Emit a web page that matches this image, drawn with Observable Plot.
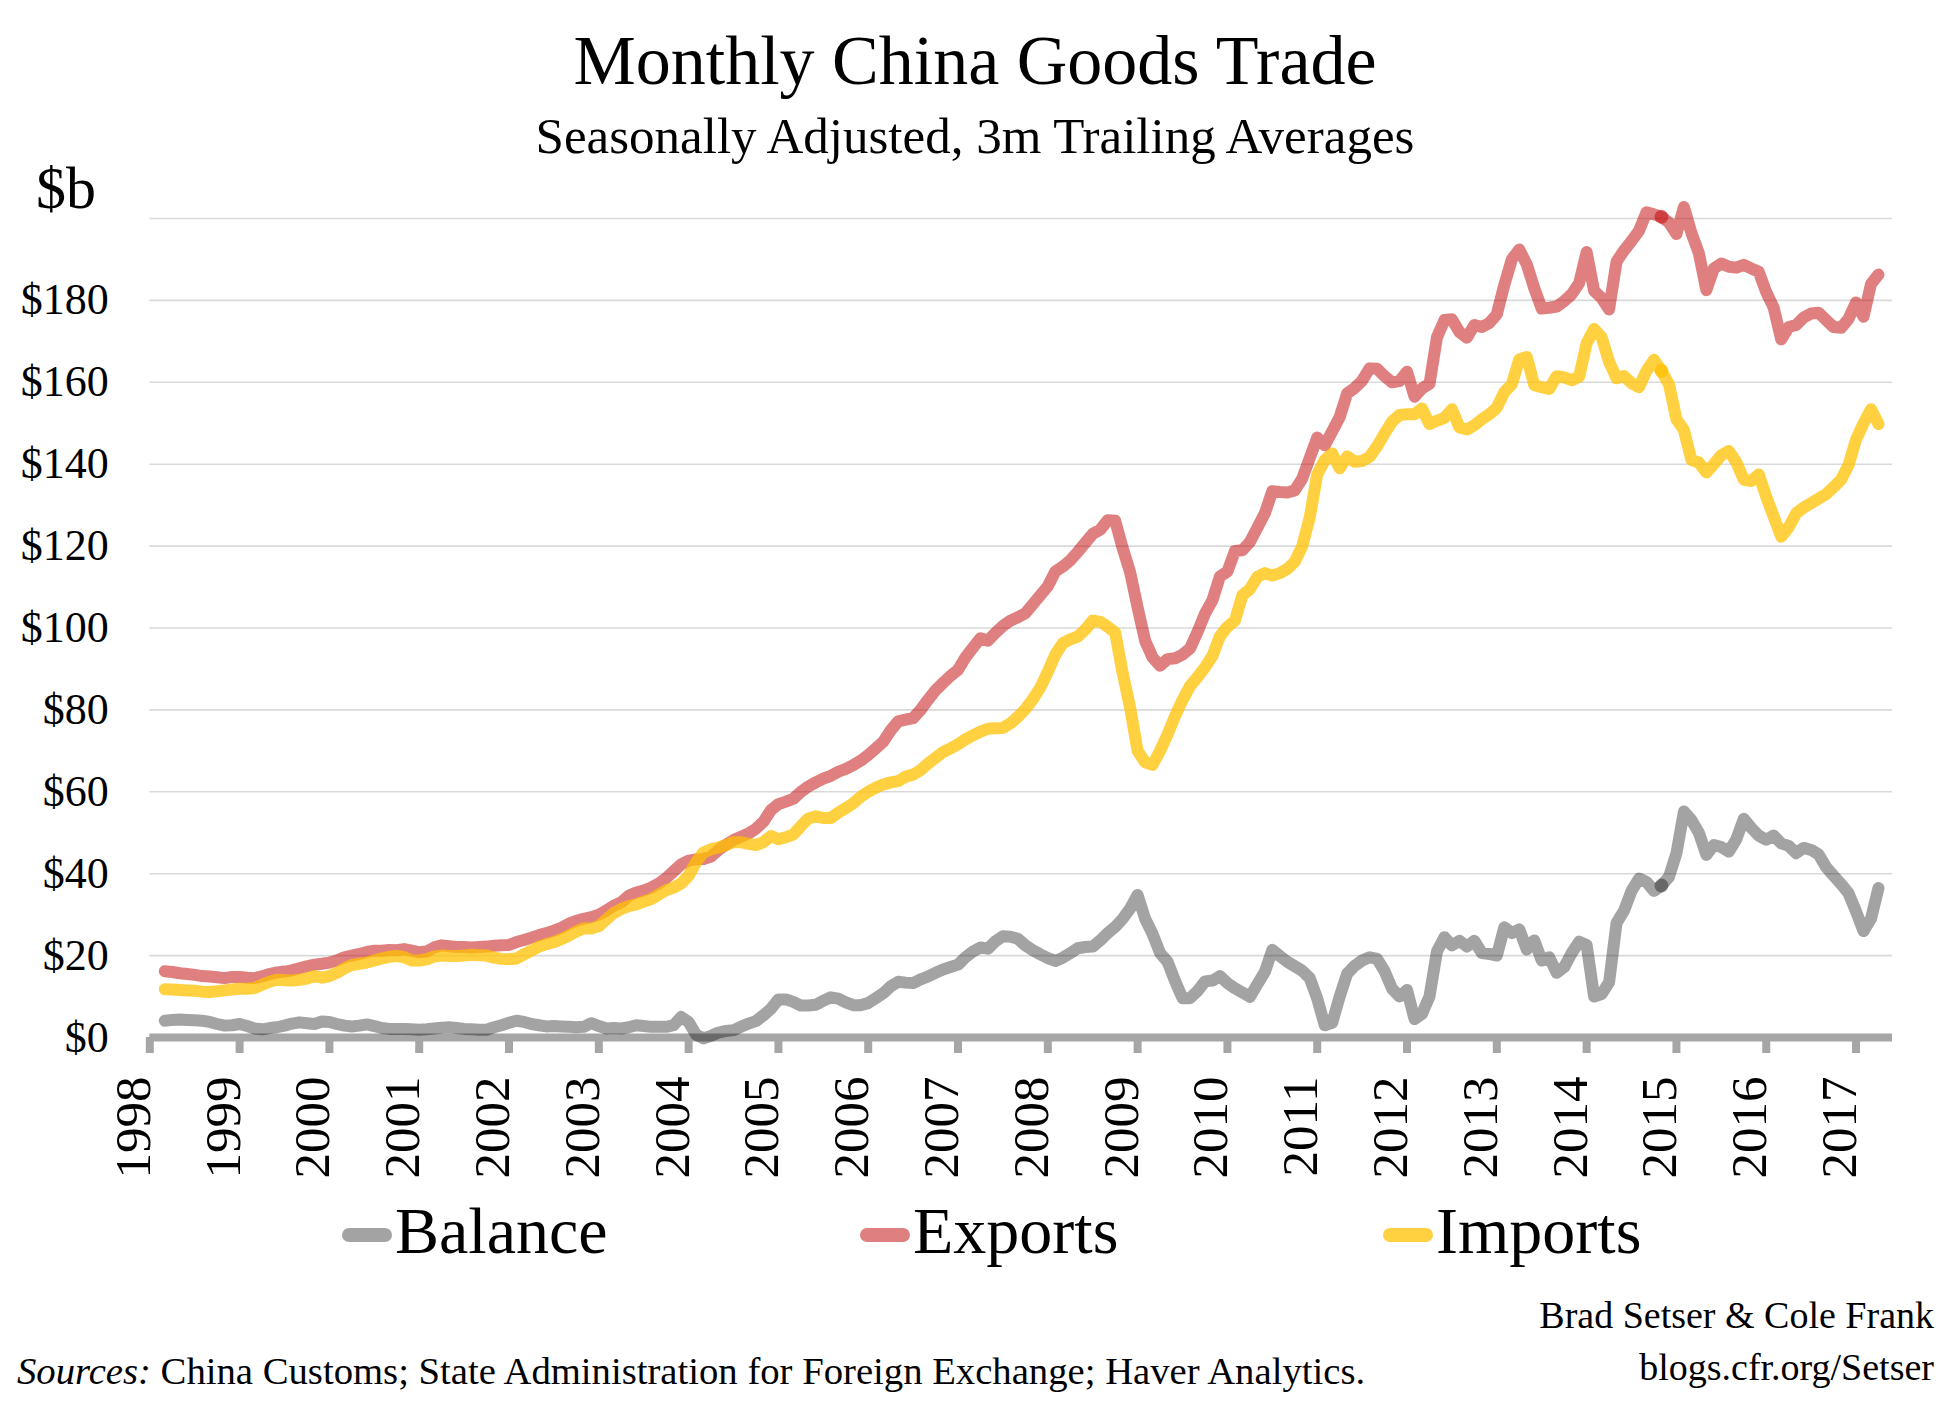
<!DOCTYPE html>
<html>
<head>
<meta charset="utf-8">
<script src="https://cdn.jsdelivr.net/npm/d3@7"></script>
<script src="https://cdn.jsdelivr.net/npm/@observablehq/plot@0.6"></script>
<style>
html,body{margin:0;padding:0;background:#fff;}
#wrap{position:relative;width:1950px;height:1405px;overflow:hidden;background:#fff;}
#wrap svg{position:absolute;left:0;top:0;}
</style>
</head>
<body>
<div id="wrap"></div>
<script>
// Monthly series, first value = March 1998, last value = April 2017 ($ billions)
const firstYear = 1998;
const firstMonthIndex = 2; // March (0 = January)

const exportsB = [
16.2,16.0,15.7,15.5,15.3,15.0,14.9,14.7,14.5,14.8,
14.8,14.6,14.5,14.9,15.5,15.9,16.1,16.4,16.9,17.4,
17.8,18.0,18.3,18.8,19.6,20.0,20.4,20.9,21.2,21.2,
21.4,21.3,21.6,21.2,20.8,21.0,22.0,22.5,22.3,22.1,
22.1,22.0,22.1,22.2,22.4,22.5,22.6,23.3,23.8,24.4,
25.0,25.5,26.1,26.8,27.8,28.5,29.0,29.4,30.0,31.0,
32.2,33.0,34.6,35.4,35.9,36.6,37.6,38.9,40.6,42.3,
43.2,43.5,43.6,44.2,45.8,47.1,48.2,49.0,49.8,51.0,
52.7,55.5,57.0,57.6,58.3,60.0,61.3,62.3,63.2,63.9,
64.9,65.6,66.5,67.6,69.0,70.6,72.2,75.0,77.2,77.6,
78.0,80.0,82.5,84.8,86.6,88.3,89.8,92.8,95.2,97.5,
96.9,98.8,100.5,101.8,102.6,103.6,105.8,108.0,110.2,113.8,
115.0,116.5,118.6,120.8,123.0,124.0,126.3,126.2,119.5,113.6,
105.0,96.9,92.8,90.8,92.4,92.6,93.5,95.0,99.0,103.5,
106.8,112.6,113.8,118.8,119.0,121.0,124.5,128.0,133.4,133.2,
133.1,133.6,136.5,141.5,146.5,144.6,148.0,151.5,157.3,158.6,
160.4,163.4,163.3,161.5,160.0,160.3,162.6,156.5,158.5,159.6,
171.0,175.2,175.4,172.3,170.9,174.0,173.5,174.5,176.6,183.8,
190.0,192.4,188.8,183.0,178.0,178.2,178.5,179.8,181.5,184.2,
191.8,182.3,180.6,177.8,189.5,192.2,194.5,197.0,201.5,201.0,
200.4,199.0,196.2,202.8,196.5,191.5,182.5,187.8,189.0,188.2,
188.0,188.7,187.8,187.0,182.0,178.2,170.5,173.5,174.0,175.8,
176.8,177.0,175.2,173.5,173.3,175.5,179.5,176.0,184.0,186.3
];

const importsB = [
11.8,11.7,11.6,11.5,11.4,11.2,11.1,11.3,11.5,11.7,
11.9,11.9,12.1,12.9,13.6,14.1,14.0,13.9,14.1,14.4,
15.0,14.6,15.0,15.8,16.9,17.7,18.0,18.3,18.8,19.3,
19.7,19.9,19.6,18.8,18.8,19.1,19.8,20.0,19.9,19.9,
20.0,20.2,20.1,20.0,19.5,19.2,19.1,19.3,20.3,21.2,
22.2,22.8,23.3,24.0,24.9,25.9,26.7,26.6,27.2,28.8,
30.4,31.4,32.1,32.5,33.2,33.8,34.9,36.0,36.6,37.6,
39.5,42.8,45.2,46.0,46.4,47.0,47.7,47.7,47.3,47.0,
47.7,49.2,48.4,48.9,49.6,51.6,53.5,54.0,53.6,53.6,
54.9,56.0,57.2,58.8,60.0,61.0,61.8,62.3,62.6,63.7,
64.2,65.3,66.9,68.3,69.7,70.6,71.6,72.8,73.8,74.7,
75.4,75.5,75.6,76.7,78.3,80.2,82.6,85.5,89.3,93.5,
96.3,97.2,97.9,99.6,101.8,101.5,100.3,98.9,89.0,80.5,
70.0,67.2,66.6,70.0,74.0,78.5,82.4,85.8,88.0,90.4,
93.2,98.0,100.3,101.8,108.0,109.5,112.5,113.4,112.8,113.4,
114.4,116.2,120.0,127.0,137.5,141.0,142.6,139.0,141.9,140.6,
140.8,141.8,144.4,147.5,150.4,152.0,152.2,152.2,153.6,149.8,
150.6,151.3,153.4,149.0,148.5,149.5,151.0,152.2,153.8,157.6,
159.5,165.6,166.2,159.3,158.8,158.4,161.5,161.2,160.5,161.4,
169.5,173.0,171.0,165.0,161.0,161.5,159.8,158.8,162.8,165.5,
162.8,159.5,151.0,148.3,141.0,140.4,138.0,140.0,142.2,143.2,
140.5,136.2,135.9,137.5,132.0,127.2,122.3,124.6,128.0,129.4,
130.5,131.6,132.7,134.4,136.2,139.8,146.0,150.0,153.4,149.8
];

const balanceB = [
4.1,4.3,4.4,4.3,4.2,4.1,3.8,3.3,2.9,3.0,
3.3,2.8,2.2,2.0,2.3,2.5,2.9,3.4,3.7,3.5,
3.3,3.9,3.8,3.3,2.9,2.7,2.9,3.2,2.8,2.3,
2.1,2.1,2.1,2.0,1.9,2.0,2.2,2.4,2.5,2.3,
2.1,2.0,1.9,1.9,2.5,3.0,3.6,4.1,3.8,3.3,
3.0,2.7,2.8,2.7,2.6,2.5,2.6,3.5,2.8,2.2,
2.3,2.2,2.5,3.0,2.8,2.6,2.6,2.6,3.0,5.0,
3.8,0.7,-0.2,0.4,1.2,1.6,1.8,2.6,3.4,4.0,
5.4,7.0,9.3,9.3,8.7,7.8,7.8,8.0,9.0,9.8,
9.5,8.6,7.9,7.9,8.4,9.6,10.8,12.5,13.6,13.4,
13.3,14.2,14.9,15.8,16.6,17.2,17.8,19.6,21.0,22.0,
21.7,23.5,24.7,24.6,24.1,22.5,21.3,20.3,19.4,18.7,
19.5,20.6,21.8,22.1,22.2,23.7,25.5,27.0,29.0,31.5,
34.8,29.0,25.3,20.6,18.5,13.8,9.6,9.6,11.3,13.7,
13.9,15.0,13.3,12.0,11.0,9.9,13.0,16.0,21.4,19.9,
18.5,17.4,16.3,14.5,9.5,3.0,3.6,10.0,15.6,17.5,
18.8,19.6,19.2,16.2,11.9,10.0,11.6,4.5,5.8,10.0,
21.0,24.5,22.5,23.6,22.2,23.6,20.6,20.4,20.0,26.9,
25.5,26.4,21.5,23.7,18.8,19.6,15.8,17.2,20.6,23.4,
22.6,10.0,10.6,13.5,28.0,31.0,35.8,38.8,38.0,35.8,
37.1,39.2,45.0,55.2,53.1,50.0,44.6,47.0,46.5,45.4,
48.4,53.4,51.2,49.3,48.3,49.3,47.4,46.8,45.0,46.3,
45.8,44.7,41.6,39.5,37.5,35.2,30.8,26.0,29.0,36.5
];

const seriesNames = ["Balance", "Exports", "Imports"];
const seriesColors = ["#000000", "#c00000", "#ffc000"];
const seriesOpacity = [0.36, 0.5, 0.75];
const yearTicks = [1998,1999,2000,2001,2002,2003,2004,2005,2006,2007,2008,2009,2010,2011,2012,2013,2014,2015,2016,2017];
const yTickValues = [0,20,40,60,80,100,120,140,160,180];
const gridValues = [20,40,60,80,100,120,140,160,180,200];
const markerMonth = "2014-11"; // highlighted point

// build rows (x = decimal year of the month)
const monthX = k => firstYear + (firstMonthIndex + k) / 12;
const rows = [balanceB, exportsB, importsB].map(arr => arr.map((v, k) => ({x: monthX(k), v})));
const [my, mm] = markerMonth.split("-").map(Number);
const markerK = (my - firstYear) * 12 + (mm - 1) - firstMonthIndex;

const marks = [
  Plot.gridY(gridValues, {stroke: "#d9d9d9", strokeOpacity: 1, strokeWidth: 1.6}),
  Plot.axisY(yTickValues, {tickSize: 0, tickPadding: 41, tickFormat: d => "$" + d, fontSize: 44, label: null, color: "#000"}),
  Plot.axisX(yearTicks, {tickSize: 16, stroke: "#a6a6a6", strokeWidth: 8, strokeOpacity: 1, tickFormat: () => "", label: null}),
  Plot.ruleY([0], {stroke: "#a6a6a6", strokeWidth: 8}),
  Plot.text(yearTicks, {x: d => d, frameAnchor: "bottom", rotate: -90, textAnchor: "end", dy: 39, fontSize: 51, text: d => String(d), fill: "#000"})
];
rows.forEach((r, s) => {
  marks.push(Plot.line(r, {x: "x", y: "v", stroke: seriesColors[s], strokeOpacity: seriesOpacity[s], strokeWidth: 12, strokeLinecap: "round", strokeLinejoin: "round"}));
  marks.push(Plot.dot([r[markerK]], {x: "x", y: "v", r: 7, fill: seriesColors[s], fillOpacity: seriesOpacity[s], stroke: null}));
});

const chart = Plot.plot({
  width: 1950,
  height: 1405,
  marginTop: 218,
  marginBottom: 368,
  marginLeft: 149.3,
  marginRight: 58,
  x: {domain: [1998, 2017.406]},
  y: {domain: [0, 200]},
  style: {fontFamily: "'Liberation Serif', 'Times New Roman', serif", background: "transparent", color: "#000"},
  marks
});
document.getElementById("wrap").appendChild(chart);

// Overlay: titles, legend, credits
const ov = d3.select("#wrap").append("svg")
  .attr("width", 1950).attr("height", 1405)
  .style("font-family", "'Liberation Serif', 'Times New Roman', serif")
  .attr("fill", "#000");

ov.append("text").attr("x", 975).attr("y", 84).attr("text-anchor", "middle").attr("font-size", 70).text("Monthly China Goods Trade");
ov.append("text").attr("x", 975).attr("y", 153).attr("text-anchor", "middle").attr("font-size", 51).text("Seasonally Adjusted, 3m Trailing Averages");
ov.append("text").attr("x", 36).attr("y", 208).attr("font-size", 60).text("$b");

const legendX = [342, 860, 1383];
seriesNames.forEach((name, s) => {
  const x0 = legendX[s];
  ov.append("line").attr("x1", x0 + 7).attr("x2", x0 + 43).attr("y1", 1235).attr("y2", 1235)
    .attr("stroke", seriesColors[s]).attr("stroke-opacity", seriesOpacity[s])
    .attr("stroke-width", 14).attr("stroke-linecap", "round");
  ov.append("text").attr("x", x0 + 53).attr("y", 1253).attr("font-size", 66).text(name);
});

ov.append("text").attr("x", 1934).attr("y", 1328).attr("text-anchor", "end").attr("font-size", 38).text("Brad Setser & Cole Frank");
ov.append("text").attr("x", 1934).attr("y", 1380).attr("text-anchor", "end").attr("font-size", 38).text("blogs.cfr.org/Setser");
const src = ov.append("text").attr("x", 17).attr("y", 1384).attr("font-size", 38.7);
src.append("tspan").attr("font-style", "italic").text("Sources:");
src.append("tspan").text(" China Customs; State Administration for Foreign Exchange; Haver Analytics.");
</script>
</body>
</html>
